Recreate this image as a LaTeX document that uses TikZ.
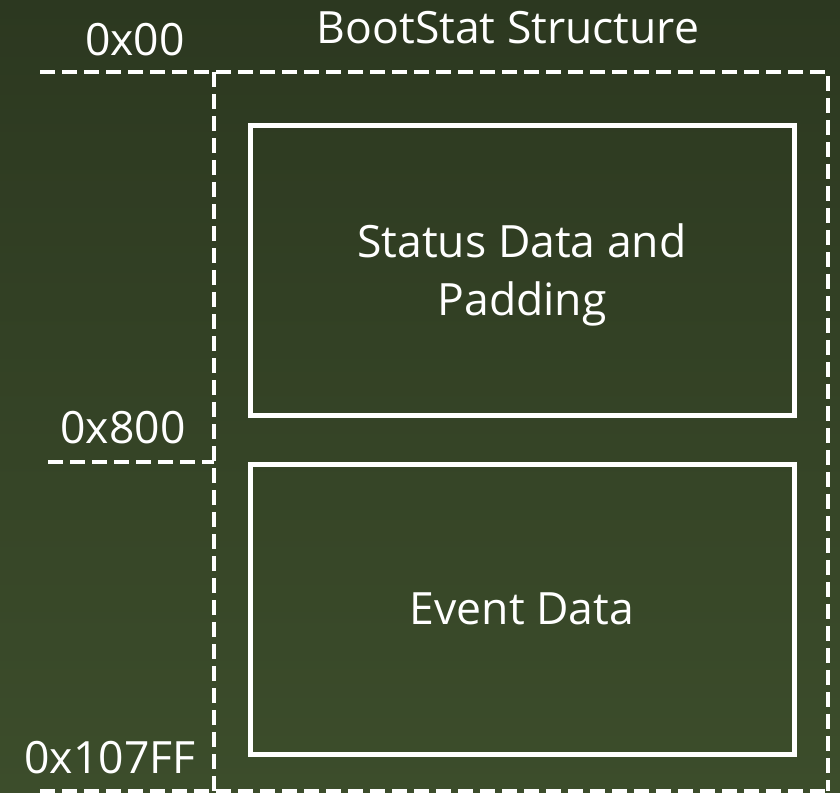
\documentclass[tikz,border=0pt]{standalone}
\usepackage{fontspec}
\setmainfont{Open Sans}
\begin{document}
\begin{tikzpicture}[x=1pt,y=-1pt,
  dashline/.style={draw=white,line width=3.5pt,dash pattern=on 15pt off 7pt},
  region/.style={draw=white,line width=5pt,minimum width=544pt,minimum height=290pt,inner sep=0pt,
    text=white,font=\fontsize{44.5}{58}\selectfont,align=center},
  lbl/.style={text=white,font=\fontsize{44.5}{54}\selectfont,inner sep=0pt}]
\useasboundingbox (0,0) rectangle (840,792);
\shade[top color={rgb,255:red,44;green,56;blue,32},bottom color={rgb,255:red,60;green,77;blue,43}] (0,0) rectangle (840,792);
\coordinate (tl) at (40,72);
\coordinate (tm) at (214,72);
\coordinate (tr) at (828,72);
\coordinate (br) at (828,791);
\coordinate (bm) at (214,791);
\coordinate (bl) at (40,791);
\coordinate (ml) at (48,462);
\coordinate (mm) at (214,462);
\draw[dashline] (tl) -- (tr) -- (br);
\draw[dashline] (bl) -- (br);
\draw[dashline] (tm) -- (bm);
\draw[dashline] (ml) -- (mm);
\node[region] (status) at (522,270) {};
\node[text=white,font=\fontsize{44.5}{58}\selectfont,align=center,inner sep=0pt] (statustext) at (522,275) {Status Data and\\Padding};
\node[region] (event) at (522,609) {Event Data};
\node[lbl] (title) at (508,28) {BootStat Structure};
\node[lbl] (a0) at (135,40) {0x00};
\node[lbl] (a800) at (123,428) {0x800};
\node[lbl] (aend) at (110,758) {0x107FF};
\end{tikzpicture}
\end{document}
